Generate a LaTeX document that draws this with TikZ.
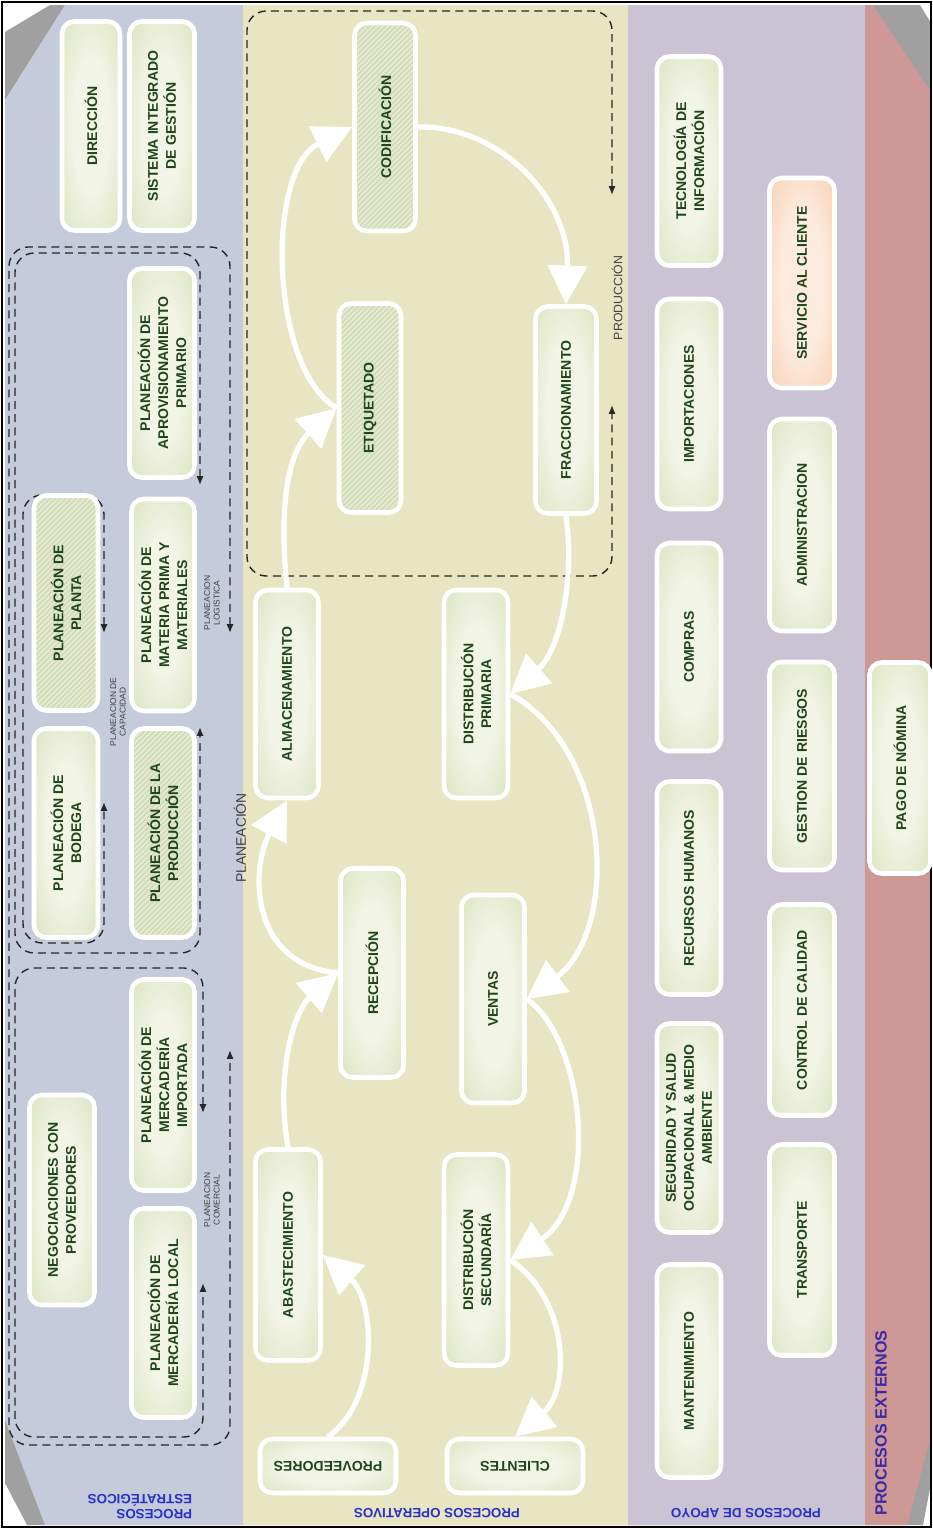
\documentclass[tikz,border=0pt]{standalone}
\usepackage{fontspec}
\setmainfont{Liberation Sans}
\usetikzlibrary{positioning,arrows.meta,patterns}

\definecolor{bandazul}{RGB}{196,203,218}
\definecolor{bandacrema}{RGB}{232,230,194}
\definecolor{bandalila}{RGB}{201,195,212}
\definecolor{bandarosa}{RGB}{205,152,150}
\definecolor{sombra}{RGB}{160,160,160}
\definecolor{verdeosc}{RGB}{30,70,28}
\definecolor{verdeclaro}{RGB}{242,244,230}
\definecolor{verdemed}{RGB}{218,227,190}
\definecolor{verdeborde}{RGB}{194,210,156}
\definecolor{naranjaclaro}{RGB}{253,236,222}
\definecolor{naranjaborde}{RGB}{245,190,152}
\definecolor{rayabg}{RGB}{226,232,206}
\definecolor{rayafg}{RGB}{196,211,166}
\definecolor{azultit}{RGB}{42,48,200}
\definecolor{violtit}{RGB}{58,40,168}

\pgfdeclareradialshading{cajaverde}{\pgfpoint{0bp}{0bp}}{color(0bp)=(verdeclaro); color(16bp)=(verdeclaro); color(38bp)=(verdemed); color(50bp)=(verdeborde); color(72bp)=(verdeborde)}
\pgfdeclareradialshading{cajanaranja}{\pgfpoint{0bp}{0bp}}{color(0bp)=(naranjaclaro); color(16bp)=(naranjaclaro); color(50bp)=(naranjaborde); color(72bp)=(naranjaborde)}

\tikzset{
  caja/.style={draw=white, line width=2.6pt, rounded corners=7pt, text=verdeosc,
    font=\fontsize{8}{10.2}\selectfont\bfseries, align=center, inner sep=1pt},
  verde/.style={caja, shade, shading=cajaverde, rotate=90},
  verdeinv/.style={caja, shade, shading=cajaverde, rotate=180},
  naranja/.style={caja, shade, shading=cajanaranja, rotate=90},
  rayada/.style={caja, preaction={fill=rayabg}, pattern=north east lines, pattern color=rayafg, rotate=90},
  tam/.style 2 args={minimum width=#1*0.02cm, minimum height=#2*0.02cm},
  ciclo/.style={draw=black!85, line width=0.8pt, dash pattern=on 4.5pt off 3pt, rounded corners=11pt, <->},
  flujo/.style={draw=white, line width=3pt, -{Triangle[length=22pt,width=22pt]}},
  etiq/.style={rotate=90, text=black!75, align=center, inner sep=1pt},
  titulo/.style={text=azultit, font=\fontsize{7.6}{8.6}\selectfont\bfseries, inner sep=1pt}
}

\begin{document}
\begin{tikzpicture}[x=0.02cm, y=-0.02cm, >={Latex[length=5pt,width=4pt]}]
  \useasboundingbox (0,0) rectangle (933,1529);
  % fondo y bandas
  \fill[white] (0,0) rectangle (933,1529);
  \fill[sombra] (50,5) -- (920,5) -- (931,23) -- (931,1483) -- (923,1525) -- (27,1525) -- (5,1483) -- (5,32) -- cycle;
  \begin{scope}
    \clip (65,5) -- (873,5) -- (931,92) -- (931,1437) -- (907,1525) -- (45,1525) -- (5,1420) -- (5,100) -- cycle;
    \fill[bandazul] (0,0) rectangle (243,1529);
    \fill[bandacrema] (243,0) rectangle (628,1529);
    \fill[bandalila] (628,0) rectangle (865,1529);
    \fill[bandarosa] (865,0) rectangle (933,1529);
  \end{scope}
  \draw[line width=1.2pt] (2,2) rectangle (931,1527);

  % ciclos punteados
  \draw[ciclo] (230,633) -- (230,247) -- (9,247) -- (9,1445) -- (230,1445) -- (230,1050);
  \draw[ciclo] (200,485) -- (200,253) -- (15,253) -- (15,953) -- (200,953) -- (200,727);
  \draw[ciclo] (203,1113) -- (203,968) -- (15,968) -- (15,1437) -- (203,1437) -- (203,1283);
  \draw[ciclo] (104,633) -- (104,495) -- (23,495) -- (23,943) -- (104,943) -- (104,802);
  \draw[ciclo] (612,195) -- (612,11) -- (247,11) -- (247,576) -- (612,576) -- (612,405);
  \node[etiq, font=\fontsize{7.9}{9}\selectfont] (lplan) at (240,838) {PLANEACIÓN};
  \node[etiq, font=\fontsize{4.8}{5.4}\selectfont] (lcap) at (118,712) {PLANEACION DE\\CAPACIDAD};
  \node[etiq, font=\fontsize{4.8}{5.4}\selectfont] (llog) at (212,603) {PLANEACION\\LOGISTICA};
  \node[etiq, font=\fontsize{4.8}{5.4}\selectfont] (lcom) at (212,1200) {PLANEACION\\COMERCIAL};
  \node[etiq, font=\fontsize{7}{8}\selectfont] (lprod) at (617,298) {PRODUCCIÓN};

  % procesos estrategicos
  \node[verde, tam={209}{58}] (dir) at (91,126) {DIRECCIÓN};
  \node[verde, tam={209}{65}] (sig) at (162,126) {SISTEMA INTEGRADO\\DE GESTIÓN};
  \node[verde, tam={209}{65}] (aprov) at (162,373) {PLANEACIÓN DE\\APROVISIONAMIENTO\\PRIMARIO};
  \node[rayada, tam={215}{64}] (planta) at (66,603) {PLANEACIÓN DE\\PLANTA};
  \node[verde, tam={209}{64}] (bodega) at (66,833) {PLANEACIÓN DE\\BODEGA};
  \node[verde, tam={212}{63}] (mprima) at (163,605) {PLANEACIÓN DE\\MATERIA PRIMA Y\\MATERIALES};
  \node[rayada, tam={209}{63}] (pprod) at (163,833) {PLANEACIÓN DE LA\\PRODUCCIÓN};
  \node[verde, tam={210}{65}] (negoc) at (62,1200) {NEGOCIACIONES CON\\PROVEEDORES};
  \node[verde, tam={211}{63}] (mimp) at (163,1085) {PLANEACIÓN DE\\MERCADERÍA\\IMPORTADA};
  \node[verde, tam={209}{63}] (mloc) at (163,1313) {PLANEACIÓN DE\\MERCADERÍA LOCAL};

  % procesos operativos
  \node[rayada, tam={208}{61}] (codif) at (385,127) {CODIFICACIÓN};
  \node[rayada, tam={209}{62}] (etiqu) at (370,408) {ETIQUETADO};
  \node[verde, tam={207}{61}] (fracc) at (566,410) {FRACCIONAMIENTO};
  \node[verde, tam={208}{63}] (almac) at (287,694) {ALMACENAMIENTO};
  \node[verde, tam={208}{64}] (dprim) at (476,694) {DISTRIBUCIÓN\\PRIMARIA};
  \node[verde, tam={209}{63}] (recep) at (372,973) {RECEPCIÓN};
  \node[verde, tam={208}{63}] (ventas) at (493,999) {VENTAS};
  \node[verde, tam={211}{65}] (abas) at (288,1255) {ABASTECIMIENTO};
  \node[verde, tam={211}{64}] (dsec) at (476,1260) {DISTRIBUCIÓN\\SECUNDARÍA};
  \node[verdeinv, tam={136}{54}] (prov) at (328,1466) {PROVEEDORES};
  \node[verdeinv, tam={136}{54}] (clie) at (515,1466) {CLIENTES};

  % flujo operativo
  \draw[flujo] (prov.south) .. controls (380,1400) and (375,1300) .. (abas.south);
  \draw[flujo] (abas.east) .. controls (275,1070) and (295,1010) .. (recep.north);
  \draw[flujo] (recep.north) .. controls (250,965) and (250,870) .. (almac.west);
  \draw[flujo] (almac.east) .. controls (278,500) and (290,450) .. (etiqu.north);
  \draw[flujo] (etiqu.north) .. controls (270,370) and (265,170) .. (codif.north);
  \draw[flujo] (codif.south) .. controls (500,125) and (570,200) .. (fracc.east);
  \draw[flujo] (fracc.west) .. controls (575,580) and (560,650) .. (dprim.south);
  \draw[flujo] (dprim.south) .. controls (612,750) and (620,930) .. (ventas.south);
  \draw[flujo] (ventas.south) .. controls (585,1040) and (600,1200) .. (dsec.south);
  \draw[flujo] (dsec.south) .. controls (570,1300) and (570,1390) .. (clie.south);

  % procesos de apoyo
  \node[verde, tam={209}{64}] (tec) at (689,161) {TECNOLOGÍA DE\\INFORMACIÓN};
  \node[verde, tam={210}{64}] (impo) at (689,404) {IMPORTACIONES};
  \node[verde, tam={208}{64}] (compras) at (689,647) {COMPRAS};
  \node[verde, tam={213}{64}] (rrhh) at (689,888) {RECURSOS HUMANOS};
  \node[verde, tam={209}{64}] (segur) at (689,1128) {SEGURIDAD Y SALUD\\OCUPACIONAL \& MEDIO\\AMBIENTE};
  \node[verde, tam={213}{64}] (mant) at (689,1371) {MANTENIMIENTO};
  \node[naranja, tam={210}{65}] (servc) at (802,283) {SERVICIO AL CLIENTE};
  \node[verde, tam={212}{65}] (admin) at (802,525) {ADMINISTRACION};
  \node[verde, tam={208}{65}] (riesg) at (802,766) {GESTION DE RIESGOS};
  \node[verde, tam={211}{65}] (calid) at (802,1010) {CONTROL DE CALIDAD};
  \node[verde, tam={211}{65}] (transp) at (802,1250) {TRANSPORTE};

  % procesos externos
  \node[verde, tam={211}{61}] (pago) at (900,768) {PAGO DE NÓMINA};

  % titulos de banda
  \node[titulo, rotate=180, align=left] (tesTR) at (140,1507) {PROCESOS\\ESTRATÉGICOS};
  \node[titulo, rotate=180] (tope) at (437,1513) {PROCESOS OPERATIVOS};
  \node[titulo, rotate=180] (tapo) at (746,1513) {PROCESOS DE APOYO};
  \node[titulo, rotate=90, text=violtit, font=\fontsize{9.2}{10}\selectfont\bfseries] (text) at (881,1423) {PROCESOS EXTERNOS};
\end{tikzpicture}
\end{document}
